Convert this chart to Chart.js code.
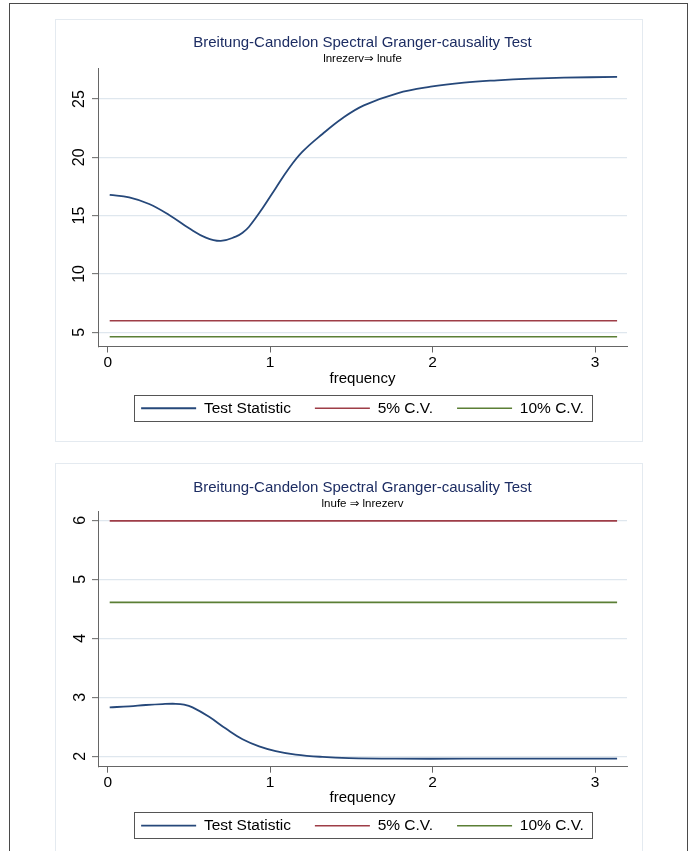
<!DOCTYPE html>
<html><head><meta charset="utf-8">
<script src="https://cdn.jsdelivr.net/npm/chart.js@4/dist/chart.umd.min.js"></script>
<style>
html,body{margin:0;padding:0;background:#fff;width:697px;height:851px;overflow:hidden;position:relative;}
#outer{position:absolute;left:9px;top:3px;width:679px;height:900px;border:1px solid #4a4a4a;box-sizing:border-box;}
.panel{position:absolute;left:55px;width:588px;border:1px solid #e4eaf0;box-sizing:border-box;}
#p1{top:19px;height:423px;}
#p2{top:463px;height:420px;}
.wrap{position:absolute;left:55px;width:615px;}
#w1{top:18px;height:423px;}
#w2{top:463px;height:396px;}
</style></head>
<body>
<div id="outer"></div>
<div class="panel" id="p1"></div>
<div class="panel" id="p2"></div>
<div class="wrap" id="w1"><canvas id="c1"></canvas></div>
<div class="wrap" id="w2"><canvas id="c2"></canvas></div>
<script>
// ---- data ----
const titleText = 'Breitung-Candelon Spectral Granger-causality Test';
const subtitle1 = 'lnrezerv\u21D2 lnufe';
const subtitle2 = 'lnufe \u21D2 lnrezerv';
const seriesLabels = ['Test Statistic', '5% C.V.', '10% C.V.'];
const xTitle = 'frequency';

const freq1 = [0.012, 0.132, 0.255, 0.378, 0.501, 0.604, 0.696, 0.788, 0.83, 0.870, 0.953, 1.034, 1.116, 1.199, 1.322, 1.445, 1.577, 1.783, 1.988, 2.193, 2.398, 2.603, 2.808, 3.136];
const stat1 = [16.77, 16.57, 16.0, 15.06, 13.91, 13.11, 12.83, 13.2, 13.54, 14.05, 15.63, 17.35, 19.06, 20.48, 22.0, 23.35, 24.45, 25.49, 26.05, 26.40, 26.60, 26.74, 26.83, 26.89];

const freq2 = [0.012, 0.132, 0.235, 0.338, 0.419, 0.47, 0.522, 0.624, 0.727, 0.830, 0.932, 1.034, 1.157, 1.322, 1.485, 1.772, 2.2, 2.6, 3.136];
const stat2 = [2.83, 2.847, 2.87, 2.886, 2.89, 2.875, 2.83, 2.67, 2.47, 2.29, 2.17, 2.09, 2.03, 1.99, 1.97, 1.96, 1.96, 1.96, 1.96];

const cvFreq = [0.012, 3.136];
const cv5 = [5.99, 5.99];
const cv10 = [4.61, 4.61];

const xTicks = [0, 1, 2, 3];
const yTicks1 = [5, 10, 15, 20, 25];
const yTicks2 = [2, 3, 4, 5, 6];

// ---- style ----
const FAM = "'Liberation Sans', Arial, 'DejaVu Sans', sans-serif";
const NAVY = '#26487a', MAROON = '#9e3d47', GREEN = '#5b7f35';
const TITLE = '#1d2d63', AXIS = '#666666', GRID = '#dfe7ee';

function pts(xs, ys) { return xs.map((x, i) => ({x: x, y: ys[i]})); }

const legendBox = {
  id: 'legendBox',
  afterDraw(chart) {
    const lg = chart.legend;
    if (!lg || !lg.legendHitBoxes || !lg.legendHitBoxes.length) return;
    const hb = lg.legendHitBoxes;
    const l = Math.min(...hb.map(h => h.left)) - 7;
    const r = Math.max(...hb.map(h => h.left + h.width)) + 8;
    const cy = hb[0].top + hb[0].height / 2;
    const ctx = chart.ctx;
    ctx.save();
    ctx.strokeStyle = '#555';
    ctx.lineWidth = 1;
    ctx.strokeRect(Math.round(l) + 0.5, Math.round(cy - 13.3) + 0.5, Math.round(r - l), 26);
    ctx.restore();
  }
};

function makeChart(id, cfg) {
  const datasets = [
    {label: seriesLabels[0], data: pts(cfg.freq, cfg.stat), borderColor: NAVY, backgroundColor: NAVY, borderWidth: 1.8, pointRadius: 0, tension: 0.4},
    {label: seriesLabels[1], data: pts(cvFreq, cv5), borderColor: MAROON, backgroundColor: MAROON, borderWidth: 1.6, pointRadius: 0},
    {label: seriesLabels[2], data: pts(cvFreq, cv10), borderColor: GREEN, backgroundColor: GREEN, borderWidth: 1.6, pointRadius: 0}
  ];
  return new Chart(document.getElementById(id), {
    type: 'line',
    data: {datasets: datasets},
    plugins: [legendBox],
    options: {
      responsive: true, maintainAspectRatio: false, animation: false,
      layout: {padding: {left: 0, right: 0, top: 0, bottom: cfg.padBottom}},
      plugins: {
        title: {display: true, text: titleText, color: TITLE, font: {size: 15, family: FAM, weight: 'normal'}, padding: {top: 15.5, bottom: 0}},
        subtitle: {display: true, text: cfg.subtitle, color: '#000', font: {size: 11.5, family: FAM, weight: 'normal'}, padding: {top: cfg.subTop, bottom: cfg.subBottom}},
        legend: {position: 'bottom', labels: {usePointStyle: true, pointStyle: 'line', pointStyleWidth: 55, padding: 24, color: '#000', font: {size: 15.5, family: FAM}}},
        tooltip: {enabled: false}
      },
      scales: {
        x: {
          type: 'linear', min: -0.06, max: 3.197,
          afterBuildTicks: s => { s.ticks = xTicks.map(v => ({value: v})); },
          afterFit: s => { s.height = cfg.xH; },
          ticks: {color: '#000', font: {size: 15.5, family: FAM}, padding: 1, maxRotation: 0, callback: v => String(v)},
          grid: {drawOnChartArea: false, drawTicks: true, tickLength: 6, tickColor: AXIS, tickWidth: 1},
          border: {display: true, color: AXIS, width: 1},
          title: {display: true, text: xTitle, color: '#000', font: {size: 15, family: FAM}, padding: {top: 0, bottom: cfg.titlePadB}}
        },
        y: {
          type: 'linear', position: 'left', min: cfg.yMin, max: cfg.yMax,
          afterBuildTicks: s => { s.ticks = cfg.yTicks.map(v => ({value: v})); },
          afterFit: s => { s.width = 43; },
          ticks: {color: '#000', font: {size: 16, family: FAM}, padding: cfg.yPad, minRotation: 90, maxRotation: 90, crossAlign: 'center', callback: v => String(v)},
          grid: {color: GRID, lineWidth: 1.3, drawTicks: true, tickLength: 6, tickColor: AXIS, tickWidth: 1},
          border: {display: true, color: AXIS, width: 1}
        },
        yR: {
          type: 'linear', position: 'right', display: true,
          afterFit: s => { s.width = 43; },
          ticks: {display: false}, grid: {display: false}, border: {display: false}
        }
      }
    }
  });
}

makeChart('c1', {freq: freq1, stat: stat1, subtitle: subtitle1, yMin: 3.78, yMax: 27.63, yTicks: yTicks1, yPad: 3.1, subTop: 0.8, subBottom: 2.2, xH: 30, titlePadB: -11.5, padBottom: 15.0});
makeChart('c2', {freq: freq2, stat: stat2, subtitle: subtitle2, yMin: 1.824, yMax: 6.158, yTicks: yTicks2, yPad: 7.0, subTop: 0.1, subBottom: 0.6, xH: 27.25, titlePadB: -12.75, padBottom: 15.55});
</script>
</body></html>
